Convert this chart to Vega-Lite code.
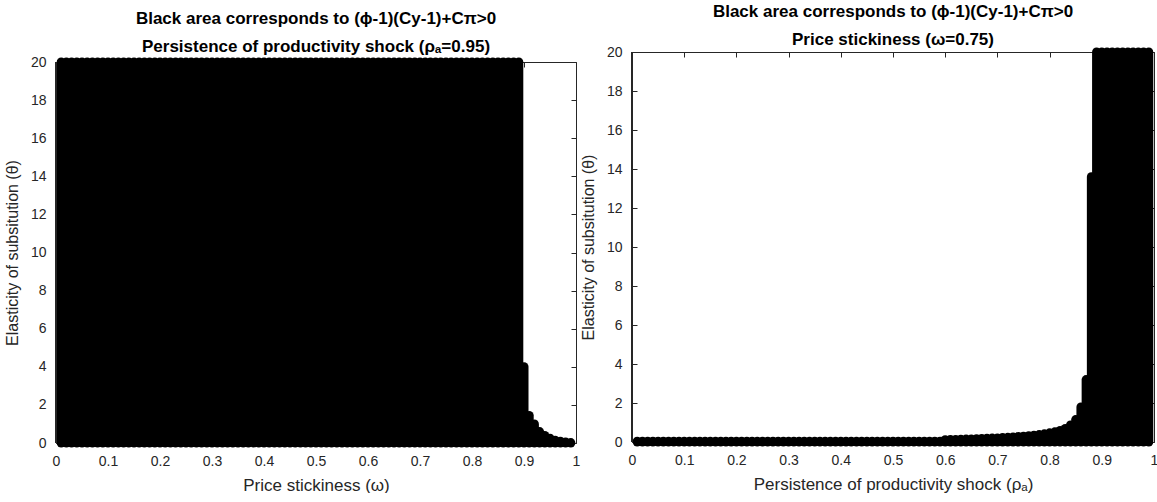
{
  "$schema": "https://vega.github.io/schema/vega-lite/v6.json",
  "padding": {"left": 4, "top": 3, "right": 0, "bottom": 0},
  "spacing": 0,
  "config": {
    "font": "Liberation Sans",
    "view": {"stroke": null},
    "axis": {
      "labelFont": "Liberation Sans", "labelFontSize": 14, "labelColor": "#262626",
      "titleFont": "Liberation Sans", "titleFontWeight": "normal", "titleColor": "#262626",
      "domainColor": "#262626", "tickColor": "#262626", "tickSize": -5, "grid": false,
      "labelFlush": false, "labelOverlap": false
    },
    "axisX": {"labelPadding": 16, "titlePadding": 9, "titleFontSize": 17, "format": "~g"},
    "axisY": {"labelPadding": 15, "titlePadding": 10, "titleFontSize": 16},
    "title": {"font": "Liberation Sans", "fontSize": 17, "fontWeight": "bold", "color": "#000000", "lineHeight": 28, "anchor": "middle", "offset": -4}
  },
  "datasets": {
    "omega": [
      {"x":0.01,"theta":20},{"x":0.02,"theta":20},{"x":0.03,"theta":20},{"x":0.04,"theta":20},{"x":0.05,"theta":20},{"x":0.06,"theta":20},{"x":0.07,"theta":20},{"x":0.08,"theta":20},{"x":0.09,"theta":20},{"x":0.10,"theta":20},
      {"x":0.11,"theta":20},{"x":0.12,"theta":20},{"x":0.13,"theta":20},{"x":0.14,"theta":20},{"x":0.15,"theta":20},{"x":0.16,"theta":20},{"x":0.17,"theta":20},{"x":0.18,"theta":20},{"x":0.19,"theta":20},{"x":0.20,"theta":20},
      {"x":0.21,"theta":20},{"x":0.22,"theta":20},{"x":0.23,"theta":20},{"x":0.24,"theta":20},{"x":0.25,"theta":20},{"x":0.26,"theta":20},{"x":0.27,"theta":20},{"x":0.28,"theta":20},{"x":0.29,"theta":20},{"x":0.30,"theta":20},
      {"x":0.31,"theta":20},{"x":0.32,"theta":20},{"x":0.33,"theta":20},{"x":0.34,"theta":20},{"x":0.35,"theta":20},{"x":0.36,"theta":20},{"x":0.37,"theta":20},{"x":0.38,"theta":20},{"x":0.39,"theta":20},{"x":0.40,"theta":20},
      {"x":0.41,"theta":20},{"x":0.42,"theta":20},{"x":0.43,"theta":20},{"x":0.44,"theta":20},{"x":0.45,"theta":20},{"x":0.46,"theta":20},{"x":0.47,"theta":20},{"x":0.48,"theta":20},{"x":0.49,"theta":20},{"x":0.50,"theta":20},
      {"x":0.51,"theta":20},{"x":0.52,"theta":20},{"x":0.53,"theta":20},{"x":0.54,"theta":20},{"x":0.55,"theta":20},{"x":0.56,"theta":20},{"x":0.57,"theta":20},{"x":0.58,"theta":20},{"x":0.59,"theta":20},{"x":0.60,"theta":20},
      {"x":0.61,"theta":20},{"x":0.62,"theta":20},{"x":0.63,"theta":20},{"x":0.64,"theta":20},{"x":0.65,"theta":20},{"x":0.66,"theta":20},{"x":0.67,"theta":20},{"x":0.68,"theta":20},{"x":0.69,"theta":20},{"x":0.70,"theta":20},
      {"x":0.71,"theta":20},{"x":0.72,"theta":20},{"x":0.73,"theta":20},{"x":0.74,"theta":20},{"x":0.75,"theta":20},{"x":0.76,"theta":20},{"x":0.77,"theta":20},{"x":0.78,"theta":20},{"x":0.79,"theta":20},{"x":0.80,"theta":20},
      {"x":0.81,"theta":20},{"x":0.82,"theta":20},{"x":0.83,"theta":20},{"x":0.84,"theta":20},{"x":0.85,"theta":20},{"x":0.86,"theta":20},{"x":0.87,"theta":20},{"x":0.88,"theta":20},{"x":0.89,"theta":20},{"x":0.90,"theta":4.0},
      {"x":0.91,"theta":1.45},{"x":0.92,"theta":1.0},{"x":0.93,"theta":0.6},{"x":0.94,"theta":0.4},{"x":0.95,"theta":0.25},{"x":0.96,"theta":0.15},{"x":0.97,"theta":0.09},{"x":0.98,"theta":0.05},{"x":0.99,"theta":0.02}
    ],
    "rho": [
      {"x":0.01,"theta":0.04},{"x":0.02,"theta":0.04},{"x":0.03,"theta":0.04},{"x":0.04,"theta":0.04},{"x":0.05,"theta":0.04},{"x":0.06,"theta":0.04},{"x":0.07,"theta":0.04},{"x":0.08,"theta":0.04},{"x":0.09,"theta":0.04},{"x":0.10,"theta":0.04},
      {"x":0.11,"theta":0.04},{"x":0.12,"theta":0.04},{"x":0.13,"theta":0.04},{"x":0.14,"theta":0.04},{"x":0.15,"theta":0.04},{"x":0.16,"theta":0.04},{"x":0.17,"theta":0.04},{"x":0.18,"theta":0.04},{"x":0.19,"theta":0.04},{"x":0.20,"theta":0.04},
      {"x":0.21,"theta":0.04},{"x":0.22,"theta":0.04},{"x":0.23,"theta":0.04},{"x":0.24,"theta":0.04},{"x":0.25,"theta":0.04},{"x":0.26,"theta":0.04},{"x":0.27,"theta":0.04},{"x":0.28,"theta":0.04},{"x":0.29,"theta":0.04},{"x":0.30,"theta":0.04},
      {"x":0.31,"theta":0.04},{"x":0.32,"theta":0.04},{"x":0.33,"theta":0.04},{"x":0.34,"theta":0.04},{"x":0.35,"theta":0.04},{"x":0.36,"theta":0.04},{"x":0.37,"theta":0.04},{"x":0.38,"theta":0.04},{"x":0.39,"theta":0.04},{"x":0.40,"theta":0.04},
      {"x":0.41,"theta":0.04},{"x":0.42,"theta":0.04},{"x":0.43,"theta":0.04},{"x":0.44,"theta":0.04},{"x":0.45,"theta":0.04},{"x":0.46,"theta":0.04},{"x":0.47,"theta":0.04},{"x":0.48,"theta":0.04},{"x":0.49,"theta":0.04},{"x":0.50,"theta":0.04},
      {"x":0.51,"theta":0.04},{"x":0.52,"theta":0.04},{"x":0.53,"theta":0.04},{"x":0.54,"theta":0.04},{"x":0.55,"theta":0.04},{"x":0.56,"theta":0.04},{"x":0.57,"theta":0.04},{"x":0.58,"theta":0.04},{"x":0.59,"theta":0.04},{"x":0.60,"theta":0.12},
      {"x":0.61,"theta":0.13},{"x":0.62,"theta":0.13},{"x":0.63,"theta":0.14},{"x":0.64,"theta":0.15},{"x":0.65,"theta":0.16},{"x":0.66,"theta":0.17},{"x":0.67,"theta":0.18},{"x":0.68,"theta":0.19},{"x":0.69,"theta":0.2},{"x":0.70,"theta":0.21},
      {"x":0.71,"theta":0.23},{"x":0.72,"theta":0.24},{"x":0.73,"theta":0.26},{"x":0.74,"theta":0.28},{"x":0.75,"theta":0.3},{"x":0.76,"theta":0.32},{"x":0.77,"theta":0.35},{"x":0.78,"theta":0.38},{"x":0.79,"theta":0.42},{"x":0.80,"theta":0.47},
      {"x":0.81,"theta":0.52},{"x":0.82,"theta":0.59},{"x":0.83,"theta":0.69},{"x":0.84,"theta":0.87},{"x":0.85,"theta":1.15},{"x":0.86,"theta":1.8},{"x":0.87,"theta":3.2},{"x":0.88,"theta":13.6},{"x":0.89,"theta":20},{"x":0.90,"theta":20},
      {"x":0.91,"theta":20},{"x":0.92,"theta":20},{"x":0.93,"theta":20},{"x":0.94,"theta":20},{"x":0.95,"theta":20},{"x":0.96,"theta":20},{"x":0.97,"theta":20},{"x":0.98,"theta":20},{"x":0.99,"theta":20}
    ]
  },
  "hconcat": [
    {
      "width": 520,
      "height": 391,
      "title": {"text": ["Black area corresponds to (ϕ-1)(Cy-1)+Cπ>0", "Persistence of productivity shock (ρₐ=0.95)"]},
      "data": {"name": "omega"},
      "layer": [
        {
          "mark": {"type": "rule", "strokeWidth": 9, "strokeCap": "round", "color": "#000000"},
          "encoding": {
            "x": {"field": "x", "type": "quantitative", "scale": {"domain": [0, 1], "nice": false, "zero": false},
                  "axis": {"orient": "bottom", "values": [0,0.1,0.2,0.3,0.4,0.5,0.6,0.7,0.8,0.9,1], "title": "Price stickiness (ω)"}},
            "y": {"field": "theta", "type": "quantitative", "scale": {"domain": [0, 20], "range": [391, 10], "nice": false},
                  "axis": {"orient": "left", "values": [0,2,4,6,8,10,12,14,16,18,20], "title": "Elasticity of subsitution (θ)"}},
            "y2": {"datum": 0}
          }
        },
        {
          "mark": {"type": "rule", "strokeWidth": 1, "color": "#262626"},
          "encoding": {
            "x": {"datum": 0, "type": "quantitative",
                  "axis": {"orient": "top", "offset": -10, "labels": false, "title": null, "values": [0,0.1,0.2,0.3,0.4,0.5,0.6,0.7,0.8,0.9,1]}},
            "y": {"datum": 0, "type": "quantitative",
                  "axis": {"orient": "right", "labels": false, "title": null, "values": [0,2,4,6,8,10,12,14,16,18,20]}},
            "y2": {"datum": 20}
          }
        }
      ],
      "resolve": {"axis": {"x": "independent", "y": "independent"}}
    },
    {
      "width": 522,
      "height": 390,
      "title": {"text": ["Black area corresponds to (ϕ-1)(Cy-1)+Cπ>0", "Price stickiness (ω=0.75)"]},
      "data": {"name": "rho"},
      "layer": [
        {
          "mark": {"type": "rule", "strokeWidth": 9, "strokeCap": "round", "color": "#000000"},
          "encoding": {
            "x": {"field": "x", "type": "quantitative", "scale": {"domain": [0, 1], "nice": false, "zero": false},
                  "axis": {"orient": "bottom", "values": [0,0.1,0.2,0.3,0.4,0.5,0.6,0.7,0.8,0.9,1], "title": "Persistence of productivity shock (ρₐ)"}},
            "y": {"field": "theta", "type": "quantitative", "scale": {"domain": [0, 20], "nice": false},
                  "axis": {"orient": "left", "values": [0,2,4,6,8,10,12,14,16,18,20], "title": "Elasticity of subsitution (θ)"}},
            "y2": {"datum": 0}
          }
        },
        {
          "mark": {"type": "rule", "strokeWidth": 1, "color": "#262626"},
          "encoding": {
            "x": {"datum": 0, "type": "quantitative",
                  "axis": {"orient": "top", "labels": false, "title": null, "values": [0,0.1,0.2,0.3,0.4,0.5,0.6,0.7,0.8,0.9,1]}},
            "y": {"datum": 0, "type": "quantitative",
                  "axis": {"orient": "right", "labels": false, "title": null, "values": [0,2,4,6,8,10,12,14,16,18,20]}},
            "y2": {"datum": 20}
          }
        }
      ],
      "resolve": {"axis": {"x": "independent", "y": "independent"}}
    }
  ]
}
